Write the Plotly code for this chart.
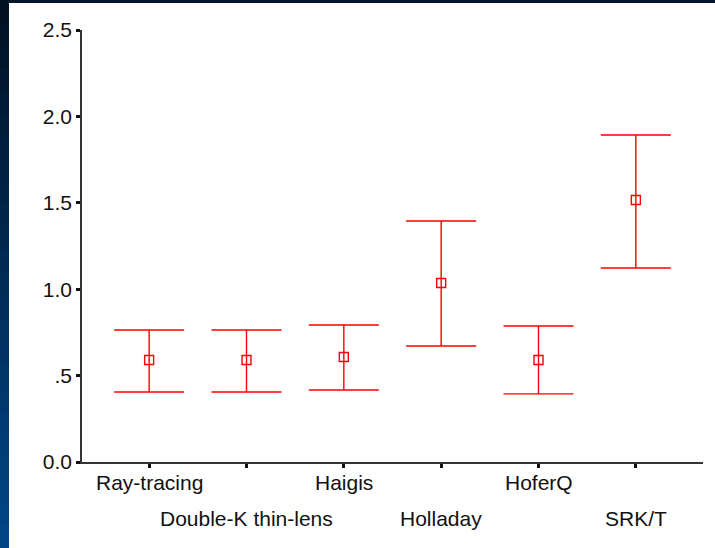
import plotly.graph_objects as go

categories = ["Ray-tracing", "Double-K thin-lens", "Haigis", "Holladay", "HoferQ", "SRK/T"]
means = [0.59, 0.59, 0.608, 1.036, 0.59, 1.516]
upper = [0.764, 0.764, 0.793, 1.395, 0.787, 1.892]
lower = [0.405, 0.405, 0.417, 0.671, 0.394, 1.123]
ytick_vals = [0.0, 0.5, 1.0, 1.5, 2.0, 2.5]
ytick_text = ["0.0", ".5", "1.0", "1.5", "2.0", "2.5"]

W, H = 715, 548
ML, MR, MT, MB = 82, 12, 30, 86
PW, PH = W - ML - MR, H - MT - MB
FONT = "Liberation Sans, Arial, sans-serif"

def px_x(p):
    return (p - ML) / PW

def px_y(p):
    return (H - MB - p) / PH

xs = list(range(len(categories)))
fig = go.Figure()
fig.add_trace(go.Scatter(
    x=xs, y=means, mode="markers",
    marker=dict(symbol="square-open", size=9, color="#ff0000", line=dict(width=1.4)),
    error_y=dict(type="data", symmetric=False,
                 array=[u - m for u, m in zip(upper, means)],
                 arrayminus=[m - l for m, l in zip(means, lower)],
                 color="#ff0000", thickness=1.4, width=35),
    showlegend=False, hoverinfo="skip",
))

shapes = []
shapes.append(dict(type="rect", xref="paper", yref="paper", layer="below",
                   x0=px_x(9), x1=px_x(W + 5), y0=px_y(H + 5), y1=px_y(3),
                   fillcolor="white", line=dict(width=0)))
n = 24
for i in range(n):
    t = i / (n - 1)
    g = int(18 + t * (70 - 18))
    b = int(36 + t * (135 - 36))
    y0 = i * H / n
    y1 = (i + 1) * H / n + 1
    shapes.append(dict(type="rect", xref="paper", yref="paper", layer="below",
                       x0=px_x(-2), x1=px_x(9), y0=px_y(y1), y1=px_y(y0),
                       fillcolor=f"rgb(0,{g},{b})", line=dict(width=0)))
shapes.append(dict(type="rect", xref="paper", yref="paper", layer="below",
                   x0=px_x(9), x1=px_x(W + 5), y0=px_y(3), y1=px_y(-3),
                   fillcolor="#021428", line=dict(width=0)))

annotations = []
for i, c in enumerate(categories):
    annotations.append(dict(x=i, y=0, xref="x", yref="y", text=c, showarrow=False,
                            yanchor="top", xanchor="center",
                            yshift=-7 if i % 2 == 0 else -43,
                            font=dict(family=FONT, size=21, color="#111111")))

fig.update_layout(
    width=W, height=H,
    margin=dict(l=ML, r=MR, t=MT, b=MB),
    paper_bgcolor="#021428", plot_bgcolor="rgba(0,0,0,0)",
    shapes=shapes, annotations=annotations,
    xaxis=dict(range=[-0.69, 5.69], tickvals=xs, showticklabels=False,
               ticks="outside", ticklen=4, tickwidth=3, tickcolor="#111111",
               showline=True, linecolor="#333333", linewidth=1.6,
               showgrid=False, zeroline=False, fixedrange=True),
    yaxis=dict(range=[0, 2.5], tickvals=ytick_vals, ticktext=ytick_text,
               ticks="outside", ticklen=4, tickwidth=3, tickcolor="#111111",
               showline=True, linecolor="#333333", linewidth=1.6,
               showgrid=False, zeroline=False, fixedrange=True,
               tickfont=dict(family=FONT, size=21, color="#111111")),
)
fig.write_html("out.html")
